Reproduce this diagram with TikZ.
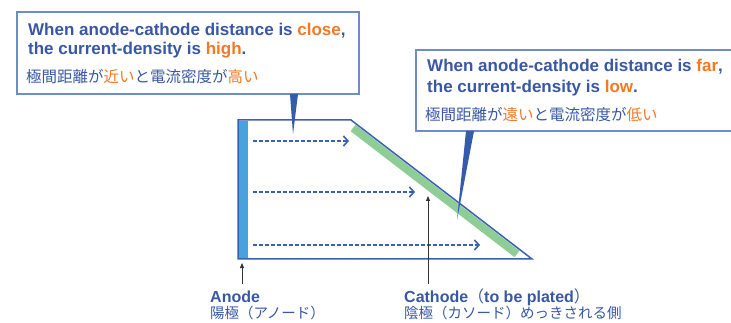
\documentclass[tikz,border=0pt]{standalone}
\usepackage{fontspec}
\setmainfont{Liberation Sans}
\newfontfamily\jp{Noto Sans CJK JP}
\usetikzlibrary{arrows.meta}
\definecolor{txtblue}{RGB}{56,88,165}
\definecolor{orng}{RGB}{242,121,38}
\definecolor{lineblue}{RGB}{58,96,178}
\definecolor{boxblue}{RGB}{110,140,200}
\definecolor{anodeblue}{RGB}{74,162,220}
\definecolor{platgreen}{RGB}{142,206,150}
\definecolor{ptrblue}{RGB}{52,92,172}
\begin{document}
\begin{tikzpicture}[x=1pt,y=-1pt,
  calloutbox/.style={draw=boxblue,line width=1.1pt,fill=white},
  pointer/.style={fill=ptrblue,draw=none},
  entxt/.style={anchor=base west,inner sep=0pt,text=txtblue,font=\bfseries\fontsize{17}{19}\selectfont},
  jptxt/.style={anchor=base west,inner sep=0pt,text=txtblue,font=\jp\fontsize{15.5}{17}\selectfont},
  labtxt/.style={anchor=base west,inner sep=0pt,text=txtblue,font=\bfseries\fontsize{16}{18}\selectfont},
  labjp/.style={anchor=base west,inner sep=0pt,text=txtblue,font=\jp\fontsize{14.5}{16}\selectfont},
  flow/.style={lineblue,line width=1.6pt,dash pattern=on 3.5pt off 2.5pt,-{Straight Barb[length=4.5pt,width=10pt,line width=1.6pt]}},
  marker/.style={black!80,line width=0.8pt,-{Triangle[length=5pt,width=4pt]}}]
\useasboundingbox (0,0) rectangle (731,323);
\clip (0,0) rectangle (731,323);

% callout boxes
\draw[calloutbox] (17,12) rectangle (359,94);
\draw[calloutbox] (416,50) rectangle (745,131);

% cell
\draw[platgreen,line width=8pt] (353,128) -- (517,254);
\fill[anodeblue] (239,121) rectangle (248,258);
\coordinate (tl) at (238,120);
\coordinate (tr) at (351,120);
\coordinate (br) at (532,259);
\coordinate (bl) at (238,259);
\draw[lineblue,line width=1.5pt,line join=miter] (tl) -- (tr) -- (br) -- (bl) -- cycle;

% pointers
\fill[pointer] (290,94) -- (298,94) -- (293,134) -- cycle;
\fill[pointer] (466,131) -- (474,131) -- (457,220) -- cycle;

% flow arrows
\coordinate (a1s) at (253,141); \coordinate (a1e) at (349,141);
\coordinate (a2s) at (253,192); \coordinate (a2e) at (415,192);
\coordinate (a3s) at (253,245); \coordinate (a3e) at (480,245);
\draw[flow] (a1s) -- (a1e);
\draw[flow] (a2s) -- (a2e);
\draw[flow] (a3s) -- (a3e);

% marker arrows
\coordinate (m1s) at (242,284); \coordinate (m1e) at (242,263);
\coordinate (m2s) at (428,284); \coordinate (m2e) at (428,196);
\draw[marker] (m1s) -- (m1e);
\draw[marker] (m2s) -- (m2e);

% left callout text
\node[entxt] (l1) at (28,36) {When anode-cathode distance is \textcolor{orng}{close},};
\node[entxt] (l2) at (28,55) {the current-density is \textcolor{orng}{high}.};
\node[jptxt] (l3) at (26,83) {極間距離が\textcolor{orng}{近い}と電流密度が\textcolor{orng}{高い}};

% right callout text
\node[entxt] (r1) at (427,72) {When anode-cathode distance is \textcolor{orng}{far},};
\node[entxt] (r2) at (427,93) {the current-density is \textcolor{orng}{low}.};
\node[jptxt] (r3) at (425,121) {極間距離が\textcolor{orng}{遠い}と電流密度が\textcolor{orng}{低い}};

% labels
\node[labtxt] (an1) at (210,302) {Anode};
\node[labjp] (an2) at (210,318) {陽極（アノード）};
\node[labtxt] (ca1) at (404,302) {Cathode{\mdseries\jp（}to be plated{\mdseries\jp）}};
\node[labjp] (ca2) at (404,318) {陰極（カソード）めっきされる側};
\end{tikzpicture}
\end{document}
